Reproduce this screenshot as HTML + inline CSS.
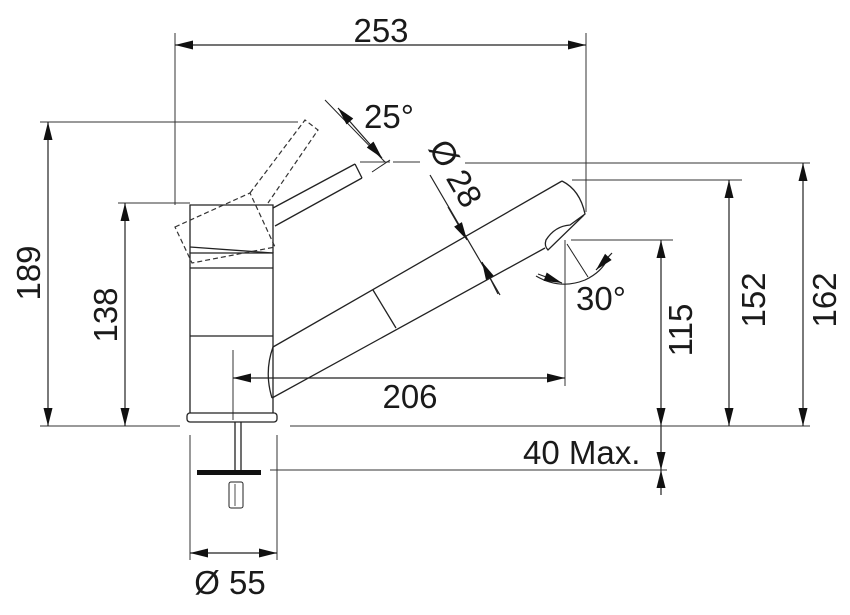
<!DOCTYPE html>
<html><head><meta charset="utf-8"><style>
html,body{margin:0;padding:0;background:#fff;}
svg{display:block;}
text{font-family:"Liberation Sans",Arial,sans-serif;font-size:33px;fill:#1a1a1a;}
</style></head><body>
<svg width="850" height="615" viewBox="0 0 850 615" xmlns="http://www.w3.org/2000/svg">
<defs>
<marker id="a" viewBox="0 0 12 6" refX="12" refY="3" markerWidth="20" markerHeight="9" markerUnits="userSpaceOnUse" orient="auto"><path d="M0,0 L12,3 L0,6 Z" fill="#111"/></marker>
<marker id="b" viewBox="0 0 12 6" refX="0" refY="3" markerWidth="20" markerHeight="9" markerUnits="userSpaceOnUse" orient="auto"><path d="M12,0 L0,3 L12,6 Z" fill="#111"/></marker>
</defs>
<g stroke="#333" stroke-width="1" fill="none">
<line x1="175" y1="33" x2="175" y2="205"/>
<line x1="586" y1="33" x2="586" y2="212"/>
<line x1="40" y1="122" x2="298" y2="122"/>
<line x1="40" y1="426" x2="180" y2="426"/>
<line x1="290" y1="426" x2="810" y2="426"/>
<line x1="118" y1="203" x2="190" y2="203"/>
<line x1="360" y1="162" x2="390" y2="162"/>
<line x1="393" y1="162" x2="420" y2="162"/>
<line x1="465" y1="163" x2="810" y2="163"/>
<line x1="572" y1="180" x2="742" y2="180"/>
<line x1="571" y1="240" x2="673" y2="240"/>
<line x1="233" y1="350" x2="233" y2="420"/>
<line x1="565" y1="240" x2="565" y2="386"/>
<line x1="270" y1="470" x2="667" y2="470"/>
<line x1="190" y1="435" x2="190" y2="560"/>
<line x1="277" y1="435" x2="277" y2="560"/>
</g>
<g stroke="#222" stroke-width="1.2" fill="none">
<line x1="175" y1="45" x2="586" y2="45" marker-start="url(#b)" marker-end="url(#a)"/>
<line x1="48" y1="122" x2="48" y2="426" marker-start="url(#b)" marker-end="url(#a)"/>
<line x1="125" y1="203" x2="125" y2="426" marker-start="url(#b)" marker-end="url(#a)"/>
<line x1="233" y1="378" x2="565" y2="378" marker-start="url(#b)" marker-end="url(#a)"/>
<line x1="661" y1="240" x2="661" y2="426" marker-start="url(#b)" marker-end="url(#a)"/>
<line x1="729" y1="180" x2="729" y2="426" marker-start="url(#b)" marker-end="url(#a)"/>
<line x1="803" y1="163" x2="803" y2="426" marker-start="url(#b)" marker-end="url(#a)"/>
<line x1="661" y1="426" x2="661" y2="470" marker-end="url(#a)"/>
<line x1="661" y1="495" x2="661" y2="470" marker-end="url(#a)"/>
<line x1="190" y1="553" x2="277" y2="553" marker-start="url(#b)" marker-end="url(#a)"/>
<line x1="325" y1="100" x2="385" y2="162" stroke-width="1"/>
<line x1="338" y1="108" x2="382" y2="158" marker-start="url(#b)" marker-end="url(#a)"/>
<line x1="372" y1="172" x2="390" y2="160" stroke-width="1"/>
<line x1="430" y1="175" x2="500" y2="295"/>
<line x1="448" y1="207" x2="467" y2="240" marker-end="url(#a)"/>
<line x1="482" y1="262" x2="498" y2="294" marker-start="url(#b)"/>
<line x1="567" y1="244" x2="588" y2="277" stroke-width="1"/>
<path d="M536,276 Q560,290 585,280 Q602,272 608,258"/>
<line x1="538" y1="274" x2="562" y2="283" marker-end="url(#a)"/>
<line x1="612" y1="253" x2="596" y2="270" marker-end="url(#a)"/>
</g>
<g stroke="#222" stroke-width="1.3" fill="none">
<rect x="187" y="413" width="90" height="9" rx="3"/>
<path d="M190,413 L190,253 L273,253 L273,413"/>
<path d="M190,253 L190,205 L273,205 L273,253"/>
<line x1="190" y1="268" x2="273" y2="268"/>
<line x1="190" y1="336" x2="273" y2="336"/>
<line x1="190" y1="247" x2="273" y2="253"/>
<line x1="273" y1="208" x2="355" y2="164"/>
<line x1="275" y1="226" x2="362" y2="178"/>
<line x1="355" y1="164" x2="362" y2="178"/>
<path d="M273,347 Q264,372 272,398"/>
<line x1="273" y1="347" x2="562" y2="181"/>
<line x1="272" y1="398" x2="545" y2="248"/>
<path d="M562,181 Q580,190 585,214 L570,225 Q555,226 546,240 Q544,246 548,250 L584,215"/>
<line x1="373" y1="290" x2="396" y2="328"/>
<line x1="235" y1="422" x2="235" y2="470"/>
<line x1="241" y1="422" x2="241" y2="470"/>
<rect x="229" y="482" width="14" height="26" rx="2" stroke-width="1"/>
<line x1="235" y1="484" x2="235" y2="506" stroke-width="0.8"/>
</g>
<rect x="197" y="470" width="64" height="5" fill="#111"/>
<g stroke="#333" stroke-width="1.2" fill="none" stroke-dasharray="5,3">
<path d="M175,227 L250,193 L275,247 L192,263 Z"/>
<path d="M250,193 L305,120 L318,130 L268,203"/>
</g>
<text x="381" y="42" text-anchor="middle">253</text>
<text x="410" y="408" text-anchor="middle">206</text>
<text x="364" y="128">25°</text>
<text x="576" y="310">30°</text>
<text x="523" y="464">40 Max.</text>
<text x="230" y="594" text-anchor="middle">Ø 55</text>
<text transform="translate(40,273) rotate(-90)" text-anchor="middle">189</text>
<text transform="translate(117,315) rotate(-90)" text-anchor="middle">138</text>
<text transform="translate(692,330) rotate(-90)" text-anchor="middle">115</text>
<text transform="translate(765,300) rotate(-90)" text-anchor="middle">152</text>
<text transform="translate(836,300) rotate(-90)" text-anchor="middle">162</text>
<text transform="translate(428,148) rotate(60)">Ø 28</text>
</svg>
</body></html>
